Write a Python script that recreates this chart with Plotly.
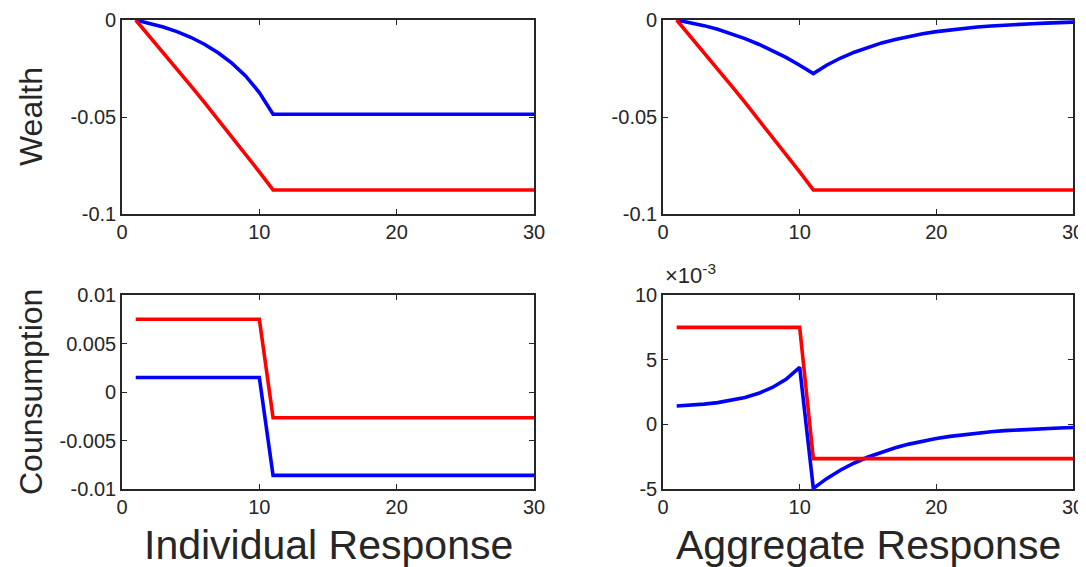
import plotly.graph_objects as go

periods = list(range(1, 31))

# Wealth, individual response
wealth_ind_blue = [0, -0.0016, -0.0036, -0.0060, -0.0089, -0.0125, -0.0169, -0.0222, -0.0288, -0.0374,
                   -0.0486] + [-0.0486] * 19
wealth_ind_red = [0, -0.0083, -0.0167, -0.0252, -0.0338, -0.0425, -0.0513, -0.0602, -0.0692, -0.0783,
                  -0.0876] + [-0.0876] * 19

# Wealth, aggregate response
wealth_agg_blue = [0, -0.0013, -0.0029, -0.0048, -0.0070, -0.0096, -0.0125, -0.0157, -0.0193, -0.0233,
                   -0.0276, -0.0232, -0.0196, -0.0166, -0.0140, -0.0118, -0.0100, -0.0085, -0.0071, -0.0060,
                   -0.0051, -0.0043, -0.0036, -0.0031, -0.0026, -0.0022, -0.0019, -0.0016, -0.0013, -0.0011]
wealth_agg_red = wealth_ind_red

# Consumption, individual response
cons_ind_blue = [0.0015] * 10 + [-0.0086] * 20
cons_ind_red = [0.0075] * 10 + [-0.00265] * 20

# Consumption, aggregate response (in units of 1e-3)
cons_agg_blue = [1.42, 1.48, 1.56, 1.68, 1.85, 2.08, 2.40, 2.85, 3.48, 4.41,
                 -4.95, -4.18, -3.53, -2.99, -2.53, -2.14, -1.81, -1.53, -1.29, -1.09,
                 -0.93, -0.79, -0.67, -0.57, -0.49, -0.42, -0.37, -0.32, -0.28, -0.25]
cons_agg_red = [7.5] * 10 + [-2.65] * 20

x_ticks = [0, 10, 20, 30]
wealth_ticks = [0, -0.05, -0.1]
wealth_ticktext = ["0", "-0.05", "-0.1"]
cons_ind_ticks = [0.01, 0.005, 0, -0.005, -0.01]
cons_ind_ticktext = ["0.01", "0.005", "0", "-0.005", "-0.01"]
cons_agg_ticks = [10, 5, 0, -5]
cons_agg_ticktext = ["10", "5", "0", "-5"]

RED = "#ff0000"
BLUE = "#0000ff"
AXC = "#262626"
FONT = "Liberation Sans, Arial, Helvetica, sans-serif"
LW = 3.6

fig = go.Figure()

panels = [
    ("x", "y", wealth_ind_blue, wealth_ind_red),
    ("x2", "y2", wealth_agg_blue, wealth_agg_red),
    ("x3", "y3", cons_ind_blue, cons_ind_red),
    ("x4", "y4", cons_agg_blue, cons_agg_red),
]
for xa, ya, b, r in panels:
    fig.add_trace(go.Scatter(x=periods, y=b, mode="lines", line=dict(color=BLUE, width=LW),
                             xaxis=xa, yaxis=ya, showlegend=False))
    fig.add_trace(go.Scatter(x=periods, y=r, mode="lines", line=dict(color=RED, width=LW),
                             xaxis=xa, yaxis=ya, showlegend=False))

# the page has an 8px body margin, so page coordinates are shifted by OFF
OFF = 8
W, H = 1086, 567


def px(x):
    return (x - OFF) / W


def py(y):
    return 1 - (y - OFF) / H


xl = [px(122), px(534)]
xr = [px(663), px(1073)]
yt = [py(214), py(20)]
yb = [py(489), py(295)]

common_ax = dict(showline=True, linecolor=AXC, linewidth=1.6, mirror="ticks", ticks="inside",
                 ticklen=5, tickwidth=1.2, tickcolor=AXC, showgrid=False, zeroline=False,
                 automargin=False, tickfont=dict(family=FONT, size=20, color=AXC))


def xax(dom, anchor):
    return dict(common_ax, domain=dom, anchor=anchor, range=[0, 30], tickvals=x_ticks,
                ticktext=[str(v) for v in x_ticks], ticklabelstandoff=-1)


def yax(dom, anchor, rng, tv, tt):
    return dict(common_ax, domain=dom, anchor=anchor, range=rng, tickvals=tv, ticktext=tt,
                ticklabelstandoff=0)


fig.update_layout(
    width=W, height=H,
    margin=dict(l=0, r=0, t=0, b=0, autoexpand=False),
    paper_bgcolor="white", plot_bgcolor="white",
    xaxis=xax(xl, "y"), yaxis=yax(yt, "x", [-0.1, 0], wealth_ticks, wealth_ticktext),
    xaxis2=xax(xr, "y2"), yaxis2=yax(yt, "x2", [-0.1, 0], wealth_ticks, wealth_ticktext),
    xaxis3=xax(xl, "y3"), yaxis3=yax(yb, "x3", [-0.01, 0.01], cons_ind_ticks, cons_ind_ticktext),
    xaxis4=xax(xr, "y4"), yaxis4=yax(yb, "x4", [-5, 10], cons_agg_ticks, cons_agg_ticktext),
)

fig.add_annotation(text="Wealth", x=px(31), y=py(117), xref="paper", yref="paper",
                   textangle=-90, showarrow=False, xanchor="center", yanchor="middle",
                   font=dict(family=FONT, size=32, color=AXC))
fig.add_annotation(text="Counsumption", x=px(31), y=py(392), xref="paper", yref="paper",
                   textangle=-90, showarrow=False, xanchor="center", yanchor="middle",
                   font=dict(family=FONT, size=32, color=AXC))
fig.add_annotation(text="Individual Response", x=px(328), y=py(545), xref="paper", yref="paper",
                   showarrow=False, xanchor="center", yanchor="middle",
                   font=dict(family=FONT, size=41, color=AXC))
fig.add_annotation(text="Aggregate Response", x=px(868), y=py(545), xref="paper", yref="paper",
                   showarrow=False, xanchor="center", yanchor="middle",
                   font=dict(family=FONT, size=41, color=AXC))
fig.add_annotation(text="×10<sup>-3</sup>", x=px(663), y=py(290), xref="paper", yref="paper",
                   showarrow=False, xanchor="left", yanchor="bottom",
                   font=dict(family=FONT, size=22, color=AXC))

fig.write_html("out.html")
